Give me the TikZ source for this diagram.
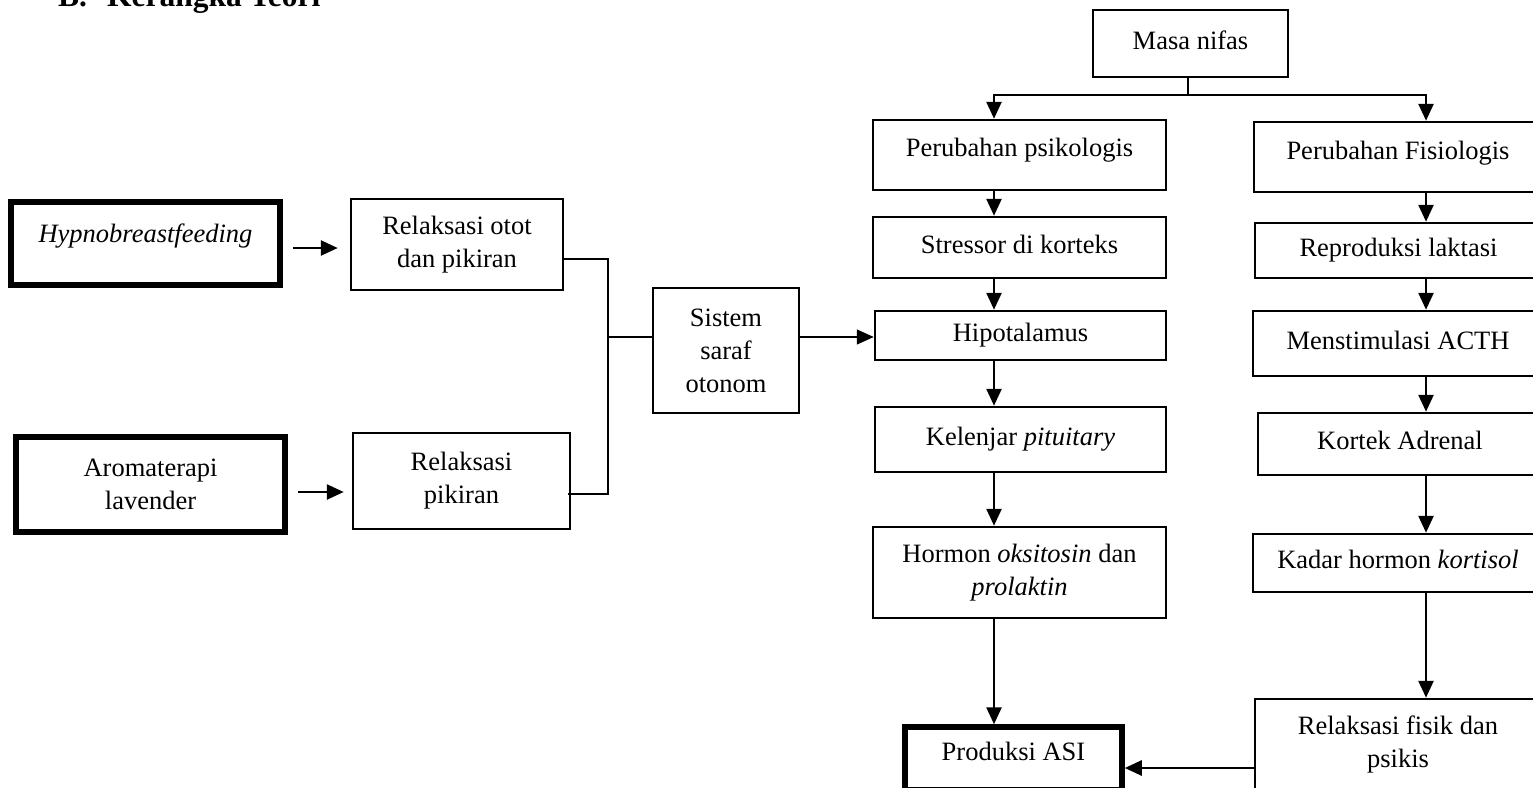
\documentclass[tikz,border=0pt]{standalone}
\usepackage{fontspec}
\setmainfont{Liberation Serif}
\usetikzlibrary{arrows.meta}
\begin{document}
\begin{tikzpicture}[x=1pt,y=-1pt,
  bx/.style={draw, line width=2.5pt, inner sep=0pt, align=center,
    font=\fontsize{26.5}{33}\selectfont},
  one/.style={text height=18.5pt, text depth=6.6pt},
  tbx/.style={bx, line width=5.5pt},
  conn/.style={line width=2.6pt},
  arr/.style={conn, -{Triangle[length=17pt,width=15pt]}},
  thinline/.style={line width=1.3pt},
  thinarr/.style={thinline, -{Triangle[length=17pt,width=15pt]}}
]
\useasboundingbox (0,0) rectangle (1533,787);

% title
\node[anchor=base west, inner sep=0pt, font=\fontsize{31.5}{36}\selectfont\bfseries] (title) at (58,6) {B.\hspace{20pt}Kerangka Teori};

% left part
\node[tbx, one, text depth=21pt, minimum width=269, minimum height=83] (hy) at (145.5,243.5) {\textit{Hypnobreastfeeding}};
\node[bx, minimum width=212, minimum height=91] (ro) at (457,244.5) {Relaksasi otot\\dan pikiran};
\node[tbx, minimum width=269, minimum height=95] (ar) at (150.5,484.5) {Aromaterapi\\lavender};
\node[bx, minimum width=217, minimum height=96] (rp) at (461.5,481) {Relaksasi\\pikiran};
\node[bx, minimum width=146, minimum height=125] (ss) at (726,350.5) {Sistem\\saraf\\otonom};

% right part
\node[bx, one, minimum width=195, minimum height=67] (mn) at (1190.5,43.5) {Masa nifas};
\node[bx, one, text depth=15.9pt, minimum width=293, minimum height=70] (pp) at (1019.5,155) {Perubahan psikologis};
\node[bx, one, text depth=14pt, minimum width=288, minimum height=70] (pf) at (1398,157) {Perubahan Fisiologis};
\node[bx, one, minimum width=293, minimum height=61] (sk) at (1019.5,247.5) {Stressor di korteks};
\node[bx, one, minimum width=287, minimum height=55] (rl) at (1398.5,250.5) {Reproduksi laktasi};
\node[bx, one, minimum width=291, minimum height=49] (hp) at (1020.5,335.5) {Hipotalamus};
\node[bx, one, minimum width=290, minimum height=65] (ms) at (1398,343.5) {Menstimulasi ACTH};
\node[bx, one, minimum width=291, minimum height=65] (kp) at (1020.5,439.5) {Kelenjar \textit{pituitary}};
\node[bx, one, minimum width=284, minimum height=62] (ka) at (1400,444) {Kortek Adrenal};
\node[bx, minimum width=293, minimum height=91] (ho) at (1019.5,572.5) {Hormon \textit{oksitosin} dan\\\textit{prolaktin}};
\node[bx, one, minimum width=290, minimum height=58] (kh) at (1398,563) {Kadar hormon \textit{kortisol}};
\node[tbx, one, text depth=14pt, minimum width=217, minimum height=63] (pa) at (1013.5,758.5) {Produksi ASI};
\node[bx, minimum width=286, minimum height=90] (rf) at (1398,744) {Relaksasi fisik dan\\psikis};

% helper coordinates
\coordinate (colL) at (994,0);
\coordinate (colR) at (1426,0);
\coordinate (split) at (1188,95);
\coordinate (a1) at (0,248);
\coordinate (a2) at (0,492);
\coordinate (bt) at (608,259);
\coordinate (bb) at (608,494);
\coordinate (mid) at (0,337);
\coordinate (bot) at (0,768);

% left connectors
\draw[arr, shorten <=10pt, shorten >=12pt] (hy.east |- a1) -- (ro.west |- a1);
\draw[arr, shorten <=10pt, shorten >=8pt] (ar.east |- a2) -- (rp.west |- a2);
\draw[conn] (ro.east |- bt) -- (bt) -- (bb) -- ([xshift=-3pt]rp.east |- bb);
\draw[thinline] (bt |- mid) -- (ss.west |- mid);
\draw[thinarr] (ss.east |- mid) -- (hp.west |- mid);

% top split
\draw[conn] (mn.south -| split) -- (split);
\draw[arr] (split) -| (pp.north -| colL);
\draw[arr] (split) -| (pf.north -| colR);

% left column
\draw[arr] (pp.south -| colL) -- (sk.north -| colL);
\draw[arr] (sk.south -| colL) -- (hp.north -| colL);
\draw[arr] (hp.south -| colL) -- (kp.north -| colL);
\draw[arr] (kp.south -| colL) -- (ho.north -| colL);
\draw[arr] (ho.south -| colL) -- (pa.north -| colL);

% right column
\draw[arr] (pf.south -| colR) -- (rl.north -| colR);
\draw[arr] (rl.south -| colR) -- (ms.north -| colR);
\draw[arr] (ms.south -| colR) -- (ka.north -| colR);
\draw[arr] (ka.south -| colR) -- (kh.north -| colR);
\draw[arr] (kh.south -| colR) -- (rf.north -| colR);

% bottom
\draw[arr] (rf.west |- bot) -- (pa.east |- bot);
\end{tikzpicture}
\end{document}
